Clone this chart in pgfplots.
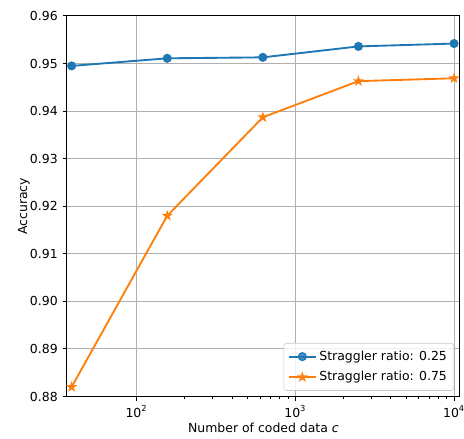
\documentclass[border=0pt]{standalone}
\usepackage{fontspec}
\setmainfont{DejaVu Sans}
\usepackage{pgfplots}
\pgfplotsset{compat=1.18}
\definecolor{mplblue}{HTML}{1F77B4}
\definecolor{mplorange}{HTML}{FF7F0E}
\definecolor{gridgray}{HTML}{B0B0B0}
% filled five-pointed star
\pgfdeclareplotmark{fstar}{%
  \pgfpathmoveto{\pgfqpointpolar{90}{\pgfplotmarksize}}%
  \pgfpathlineto{\pgfqpointpolar{126}{0.382\pgfplotmarksize}}%
  \pgfpathlineto{\pgfqpointpolar{162}{\pgfplotmarksize}}%
  \pgfpathlineto{\pgfqpointpolar{198}{0.382\pgfplotmarksize}}%
  \pgfpathlineto{\pgfqpointpolar{234}{\pgfplotmarksize}}%
  \pgfpathlineto{\pgfqpointpolar{270}{0.382\pgfplotmarksize}}%
  \pgfpathlineto{\pgfqpointpolar{306}{\pgfplotmarksize}}%
  \pgfpathlineto{\pgfqpointpolar{342}{0.382\pgfplotmarksize}}%
  \pgfpathlineto{\pgfqpointpolar{18}{\pgfplotmarksize}}%
  \pgfpathlineto{\pgfqpointpolar{54}{0.382\pgfplotmarksize}}%
  \pgfpathclose
  \pgfusepathqfillstroke}
\begin{document}
\begin{tikzpicture}
\begin{axis}[
  name=ax,
  scale only axis,
  width=283bp, height=274bp,
  xmode=log,
  xmin=36.5, xmax=10900,
  ymin=0.88, ymax=0.96,
  xtick={100,1000,10000},
  xticklabels={10\textsuperscript{2},10\textsuperscript{3},10\textsuperscript{4}},
  ytick={0.88,0.89,0.90,0.91,0.92,0.93,0.94,0.95,0.96},
  yticklabel style={/pgf/number format/.cd,fixed,fixed zerofill,precision=2,assume math mode=true},
  /pgf/number format/assume math mode=true,
  tick label style={font=\fontsize{9}{11}\selectfont, black},
  label style={font=\fontsize{9}{11}\selectfont},
  xlabel={Number of coded data \textit{c}},
  ylabel={Accuracy},
  ylabel style={at={(axis description cs:-0.1095,0.5)}, anchor=center},
  xlabel style={at={(axis description cs:0.5,-0.0577)}, anchor=north},
  tick align=outside,
  tick pos=left,
  major tick length=3.15bp,
  minor tick length=1.8bp,
  every tick/.style={black, line width=0.72bp},
  every minor tick/.style={black, line width=0.55bp},
  grid=major,
  major grid style={gridgray, line width=0.72bp},
  axis line style={line width=0.72bp},
  legend style={font=\fontsize{9}{11}\selectfont, draw=gridgray!70, rounded corners=2pt, fill=white, fill opacity=0.8, text opacity=1, draw opacity=1, at={(0.985,0.015)}, anchor=south east, row sep=2.5pt, inner xsep=3pt, inner ysep=3.5pt},
  legend cell align=left,
  legend image code/.code={\draw[mark repeat=2,mark phase=2] plot coordinates {(0cm,0cm) (0.34cm,0cm) (0.68cm,0cm)};},
]
\addplot[mplblue, line width=1.35bp, mark=*, mark size=2.8bp, mark options={solid, fill=mplblue, line width=0.9bp}]
  coordinates {(39.0625,0.9495) (156.25,0.9511) (625,0.9513) (2500,0.9536) (10000,0.9542)};
\addlegendentry{Straggler ratio: 0.25}
\addplot[mplorange, line width=1.35bp, mark=fstar, mark size=3.1bp, mark options={solid, fill=mplorange, line width=0.7bp}]
  coordinates {(39.0625,0.8820) (156.25,0.9180) (625,0.9387) (2500,0.9463) (10000,0.9469)};
\addlegendentry{Straggler ratio: 0.75}
\end{axis}
% page margins around the axis
\pgfresetboundingbox
\path ([shift={(-48.2bp,-30.2bp)}]ax.south west) rectangle ([shift={(2.9bp,11.5bp)}]ax.north east);
\end{tikzpicture}
\end{document}
